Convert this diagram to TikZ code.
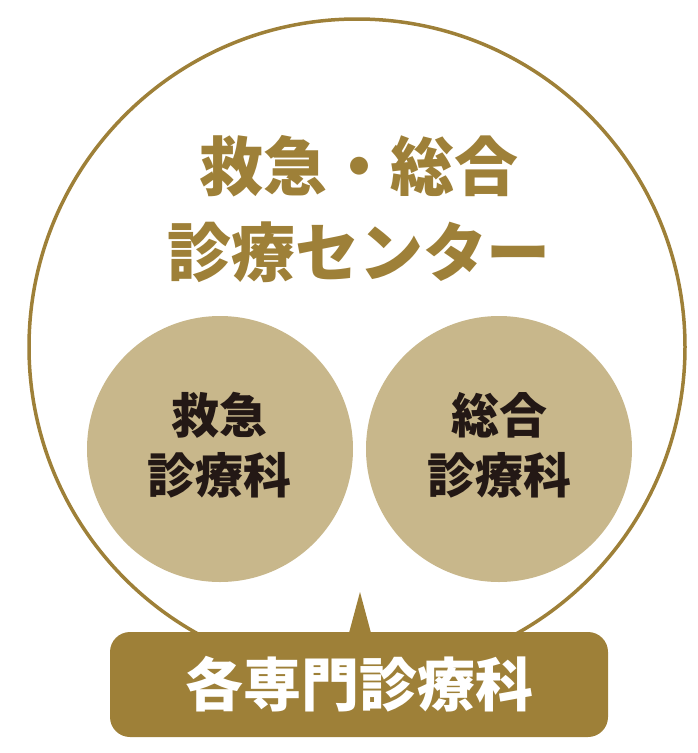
\documentclass[tikz,border=0pt]{standalone}
\usepackage{fontspec}
\usepackage{tikz}
\newfontfamily\jpfont{Noto Sans CJK JP}

\definecolor{gold}{RGB}{158,128,56}
\definecolor{sand}{RGB}{200,183,139}
\definecolor{ink}{RGB}{35,24,21}

\begin{document}
\begin{tikzpicture}[x=1pt, y=-1pt]
      \useasboundingbox (0,0) rectangle (697,753);

      % Outer circle of the center
      \node[circle, draw=gold, line width=3.5pt, minimum size=656pt, inner sep=0pt] (center) at (357,347) {};

      % Title
      \node[text=gold, align=center, font=\jpfont\bfseries\fontsize{64}{86}\selectfont] (title) at (359,209) {救急・総合\\診療センター};

      % The two departments
      \node[circle, fill=sand, minimum size=266pt, inner sep=0pt] (kyukyu) at (220,449) {};
      \node[circle, fill=sand, minimum size=266pt, inner sep=0pt] (sogo) at (499,449) {};

      \node[text=ink, align=center, font=\jpfont\bfseries\fontsize{48}{60}\selectfont] at (219,445) {救急\\診療科};
      \node[text=ink, align=center, font=\jpfont\bfseries\fontsize{48}{60}\selectfont] at (499,445) {総合\\診療科};

      % Speech box below
      \node[fill=gold, rounded corners=20pt, minimum width=498pt, minimum height=105pt, inner sep=0pt, text=white, font=\jpfont\bfseries\fontsize{58}{70}\selectfont] (senmon) at (359,684.5) {各専門診療科};

      % Pointer of the box
      \coordinate (tip) at (360,592);
      \fill[gold] (tip) -- (349,633) -- (371,633) -- cycle;
    \end{tikzpicture}
\end{document}
